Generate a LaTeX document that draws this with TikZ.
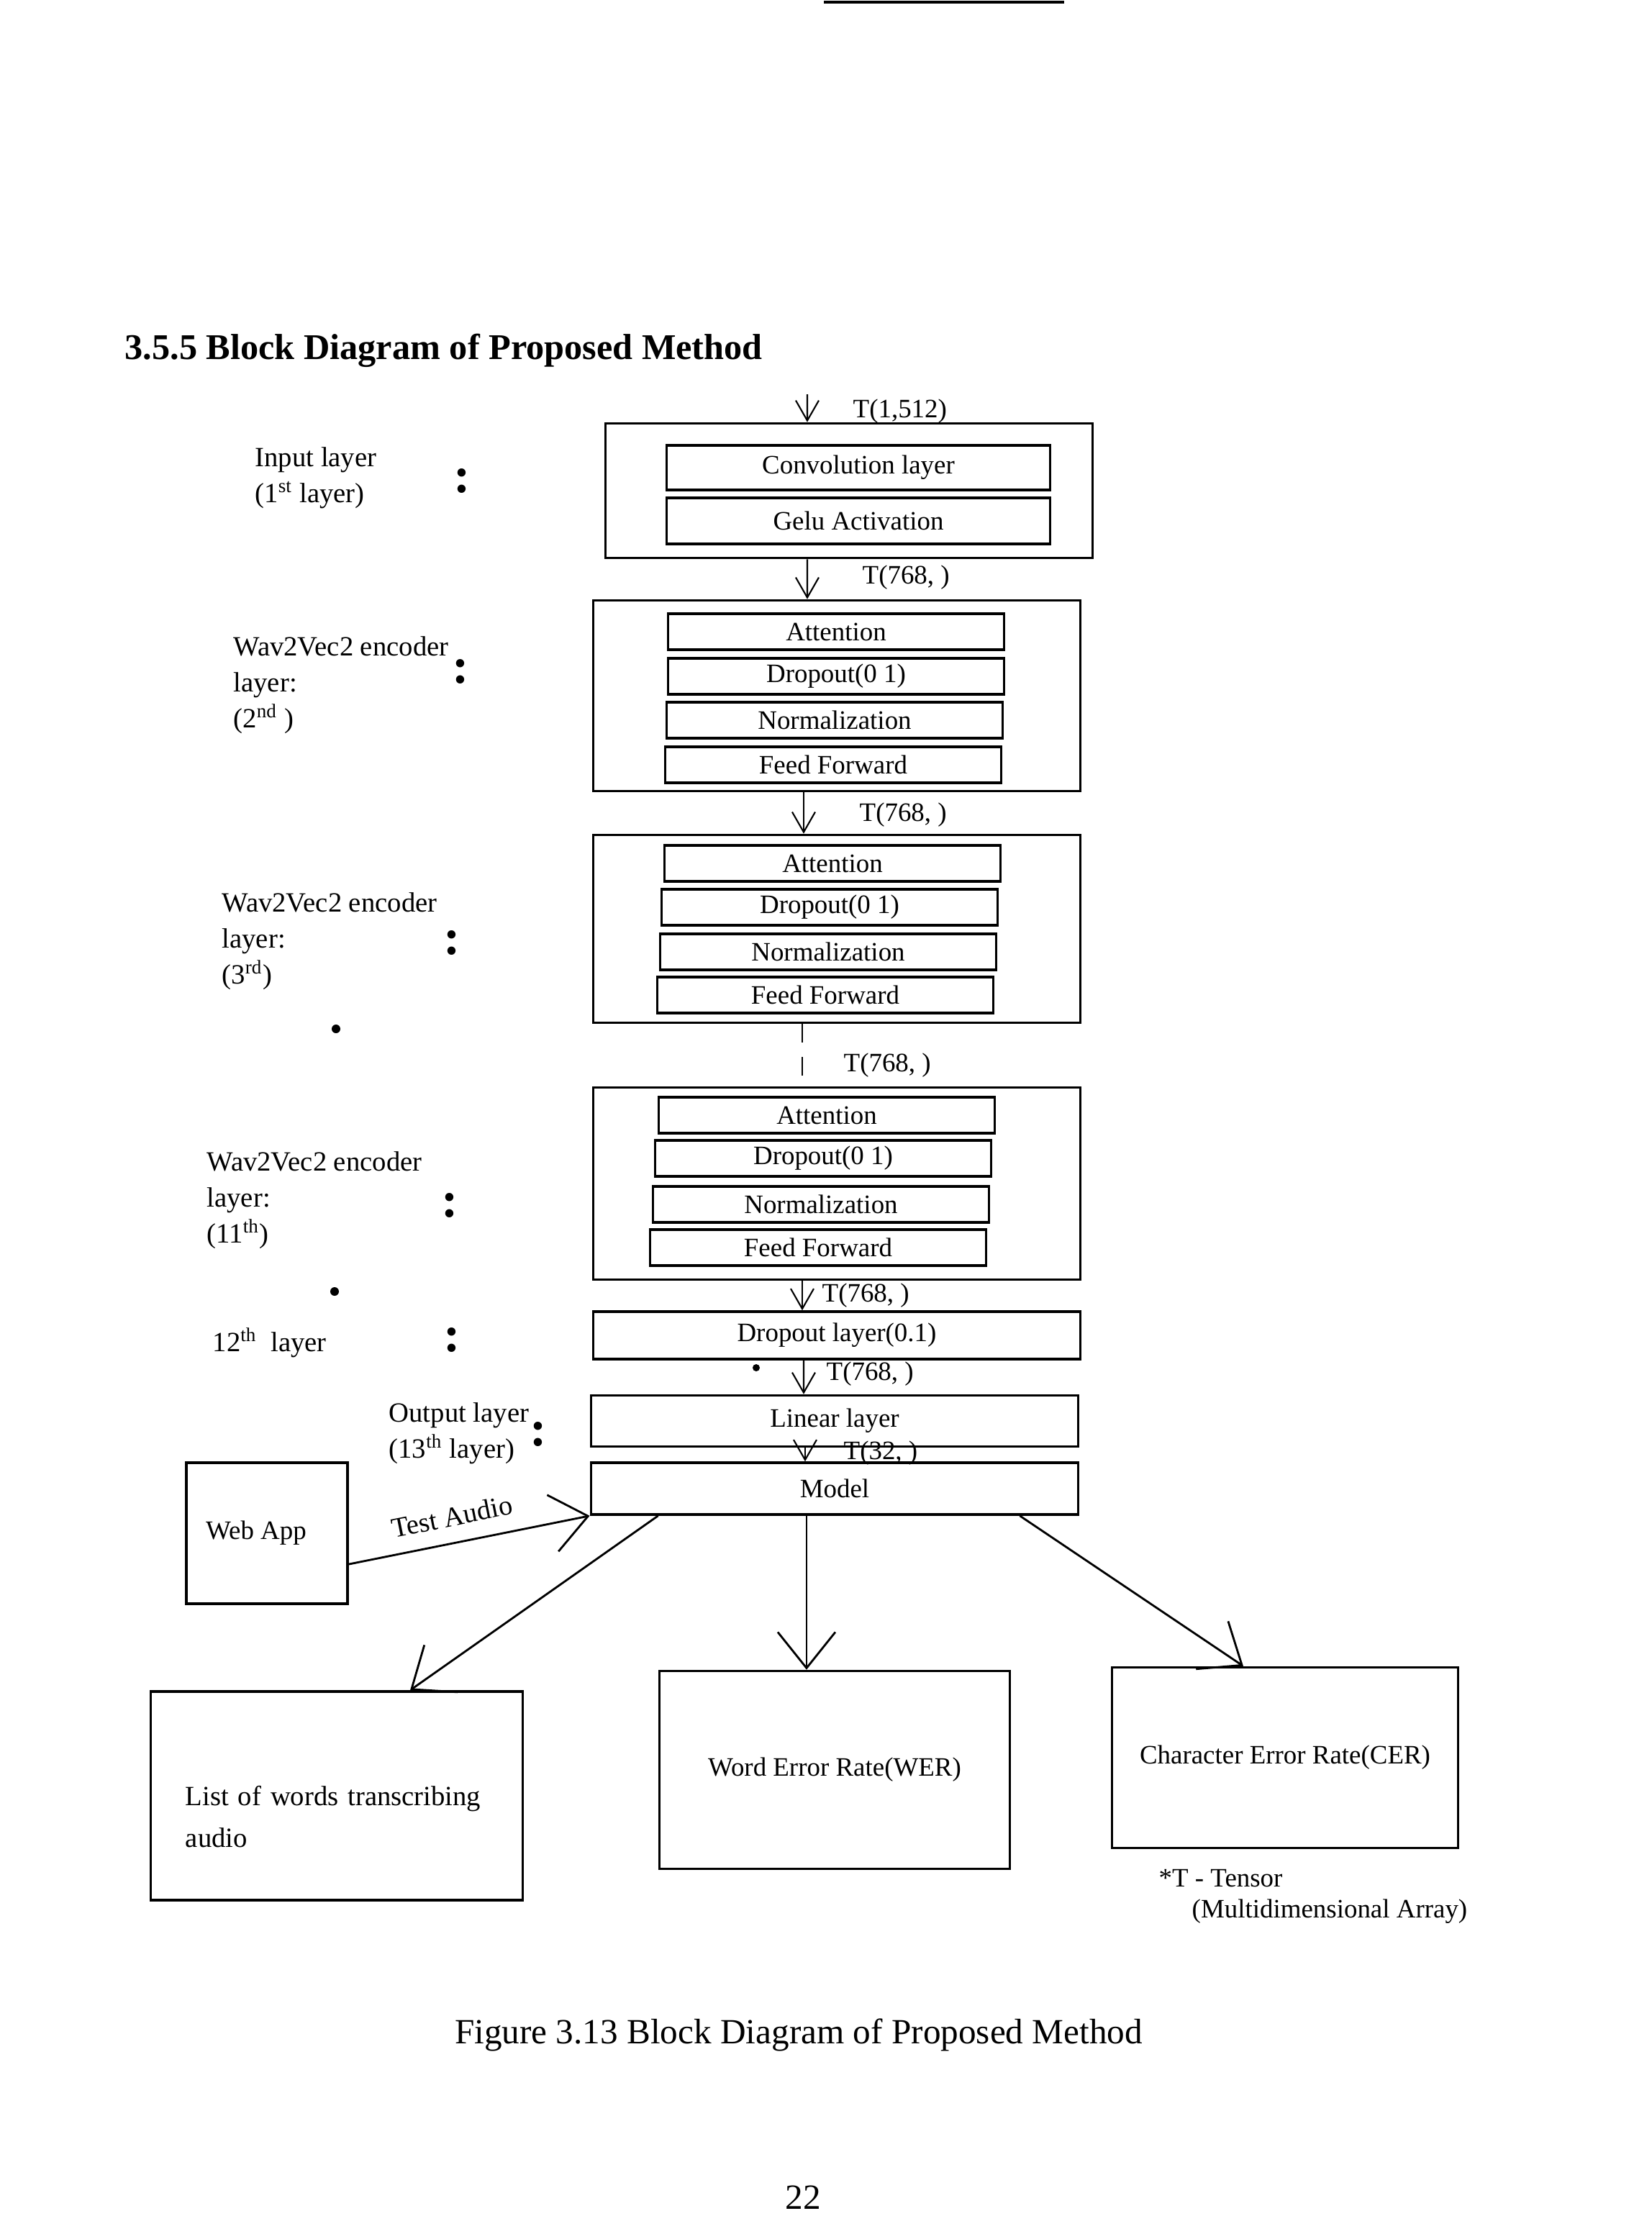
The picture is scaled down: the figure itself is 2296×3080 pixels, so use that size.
\documentclass[tikz,border=0pt]{standalone}
\usepackage{fontspec}
\setmainfont{Liberation Serif}
\usetikzlibrary{arrows.meta,positioning}
\newcommand\boxfont{\fontsize{10.5}{12.5}\selectfont}
\newcommand\sidefont{\fontsize{11}{14.2}\selectfont}
\tikzset{
  layerbox/.style={draw,line width=1pt,minimum width=6.77cm,inner sep=0pt,font=\boxfont},
  subbox/.style={draw,line width=0.9pt,minimum width=4.67cm,minimum height=5mm,inner sep=0pt,font=\boxfont},
  outbox/.style={draw,line width=1pt,font=\boxfont,align=center},
  tensor/.style={anchor=west,font=\boxfont,inner sep=0pt},
  sidelabel/.style={anchor=west,align=left,font=\sidefont,inner sep=0pt},
  colon/.style={font=\fontsize{20}{20}\selectfont\bfseries,inner sep=0pt},
  arrow/.style={-{Straight Barb[length=2.8mm,width=3.2mm]},line width=0.6pt},
  bigarrow/.style={-{Straight Barb[length=5mm,width=8mm]},line width=0.8pt}
}
\begin{document}
\begin{tikzpicture}[x=0.01cm,y=-0.01cm]
  \useasboundingbox (0,0) rectangle (2296,3080);
  \draw[line width=1.4pt] (1145,3) -- (1479,3);
  \node[anchor=west,font=\fontsize{14.3}{16}\selectfont\bfseries,inner sep=0pt] (title) at (173,487) {3.5.5 Block Diagram of Proposed Method};

  % main column
  \node[layerbox,minimum height=1.87cm] (input) at (1180,682) {};
  \node[subbox,minimum width=5.32cm,minimum height=6.2mm] (conv) at (1193,650) {Convolution layer};
  \node[subbox,minimum width=5.32cm,minimum height=6.4mm] (gelu) at (1193,724) {Gelu Activation};

  \node[layerbox,minimum height=2.65cm] (enc2) at (1163,967) {};
  \node[subbox] (att2) at (1162,878) {Attention};
  \node[subbox] (drop2) at (1162,940) {Dropout(0 1)};
  \node[subbox] (norm2) at (1160,1001) {Normalization};
  \node[subbox] (ff2) at (1158,1063) {Feed Forward};

  \node[layerbox,minimum height=2.61cm] (enc3) at (1163,1291) {};
  \node[subbox] (att3) at (1157,1200) {Attention};
  \node[subbox] (drop3) at (1153,1261) {Dropout(0 1)};
  \node[subbox] (norm3) at (1151,1323) {Normalization};
  \node[subbox] (ff3) at (1147,1383) {Feed Forward};

  \node[layerbox,minimum height=2.67cm] (enc11) at (1163,1645) {};
  \node[subbox] (att11) at (1149,1550) {Attention};
  \node[subbox] (drop11) at (1144,1610) {Dropout(0 1)};
  \node[subbox] (norm11) at (1141,1674) {Normalization};
  \node[subbox] (ff11) at (1137,1734) {Feed Forward};

  \node[layerbox,minimum height=6.6mm] (dropl) at (1163,1856) {Dropout layer(0.1)};
  \node[layerbox,minimum height=7.1mm] (linear) at (1160,1975) {Linear layer};
  \node[layerbox,minimum height=7.2mm] (model) at (1160,2069) {Model};

  \coordinate (feed) at (1122,548);
  \draw[arrow] (feed) -- ([xshift=-5.8mm]input.north);
  \node[tensor] (t0) at (1185,572) {T(1,512)};
  \draw[arrow] ([xshift=-5.8mm]input.south) -- ([xshift=-4.1mm]enc2.north);
  \node[tensor] (t1) at (1198,803) {T(768, )};
  \draw[arrow] ([xshift=-4.6mm]enc2.south) -- ([xshift=-4.6mm]enc3.north);
  \node[tensor] (t2) at (1194,1133) {T(768, )};
  \draw[line width=0.6pt,dash pattern=on 2.6mm off 2mm] ([xshift=-4.8mm]enc3.south) -- ([xshift=-4.8mm]enc11.north);
  \node[tensor] (t3) at (1172,1481) {T(768, )};
  \draw[arrow] ([xshift=-4.8mm]enc11.south) -- ([xshift=-4.8mm]dropl.north);
  \node[tensor] (t4) at (1142,1801) {T(768, )};
  \draw[arrow] ([xshift=-4.6mm]dropl.south) -- ([xshift=-4.3mm]linear.north);
  \node[tensor] (t5) at (1148,1910) {T(768, )};
  \draw[arrow] ([xshift=-4.1mm]linear.south) -- ([xshift=-4.1mm]model.north);
  \node[tensor] (t6) at (1172,2020) {T(32, )};

  % left side labels
  \node[sidelabel] (lbl1) at (354,664) {Input layer\\(1\textsuperscript{st} layer)};
  \node[colon] (c1) at (642,668) {:};
  \node[sidelabel] (lbl2) at (324,952) {Wav2Vec2 encoder\\layer:\\(2\textsuperscript{nd} )};
  \node[colon] (c2) at (640,933) {:};
  \node[sidelabel] (lbl3) at (308,1308) {Wav2Vec2 encoder\\layer:\\(3\textsuperscript{rd})};
  \node[colon] (c3) at (628,1310) {:};
  \node[sidelabel] (lbl11) at (287,1668) {Wav2Vec2 encoder\\layer:\\(11\textsuperscript{th})};
  \node[colon] (c11) at (625,1675) {:};
  \node[sidelabel] (lbl12) at (295,1866) {12\textsuperscript{th}\ \ layer};
  \node[colon] (c12) at (628,1862) {:};
  \node[sidelabel] (lbl13) at (540,1992) {Output layer\\(13\textsuperscript{th}\ layer)};
  \node[colon] (c13) at (748,1993) {:};
  \fill (467,1430) circle (0.6mm);
  \fill (465,1795) circle (0.6mm);
  \fill (1051,1901) circle (0.5mm);

  % input and outputs
  \node[outbox,minimum width=2.24cm,minimum height=1.96cm] (webapp) at (371,2131) {Web App\hspace*{3mm}};
  \draw[bigarrow] ([yshift=-4.3mm]webapp.east) -- node[pos=0.45,above=1mm,sloped,font=\sidefont] (audio) {Test Audio} (model.south west);

  \node[outbox,minimum width=5.17cm,minimum height=2.9cm,text width=4.2cm,align=left,inner xsep=4.8mm,text height=8.5mm,font=\fontsize{11}{16.5}\selectfont] (words) at (468,2496) {List of words transcribing\\audio};
  \node[outbox,minimum width=4.87cm,minimum height=2.75cm] (wer) at (1160,2460) {Word Error Rate(WER)};
  \node[outbox,minimum width=4.81cm,minimum height=2.51cm] (cer) at (1786,2443) {Character Error Rate(CER)};
  \draw[bigarrow] ([xshift=9.5mm]model.south west) -- ([xshift=10.2mm]words.north);
  \draw[bigarrow] ([xshift=-3.9mm]model.south) -- ([xshift=-3.9mm]wer.north);
  \draw[bigarrow] ([xshift=-8.3mm]model.south east) -- ([xshift=-5.8mm]cer.north);

  \node[anchor=north west,align=left,font=\fontsize{10.5}{12.2}\selectfont,inner sep=0pt] (note) at (1610,2598) {*T - Tensor\\\hspace*{4.6mm}(Multidimensional Array)};

  \node[font=\fontsize{14}{16}\selectfont,inner sep=0pt] (caption) at (1110,2828) {Figure 3.13 Block Diagram of Proposed Method};
  \node[font=\fontsize{14}{16}\selectfont,inner sep=0pt] (page) at (1116,3054) {22};
\end{tikzpicture}
\end{document}
